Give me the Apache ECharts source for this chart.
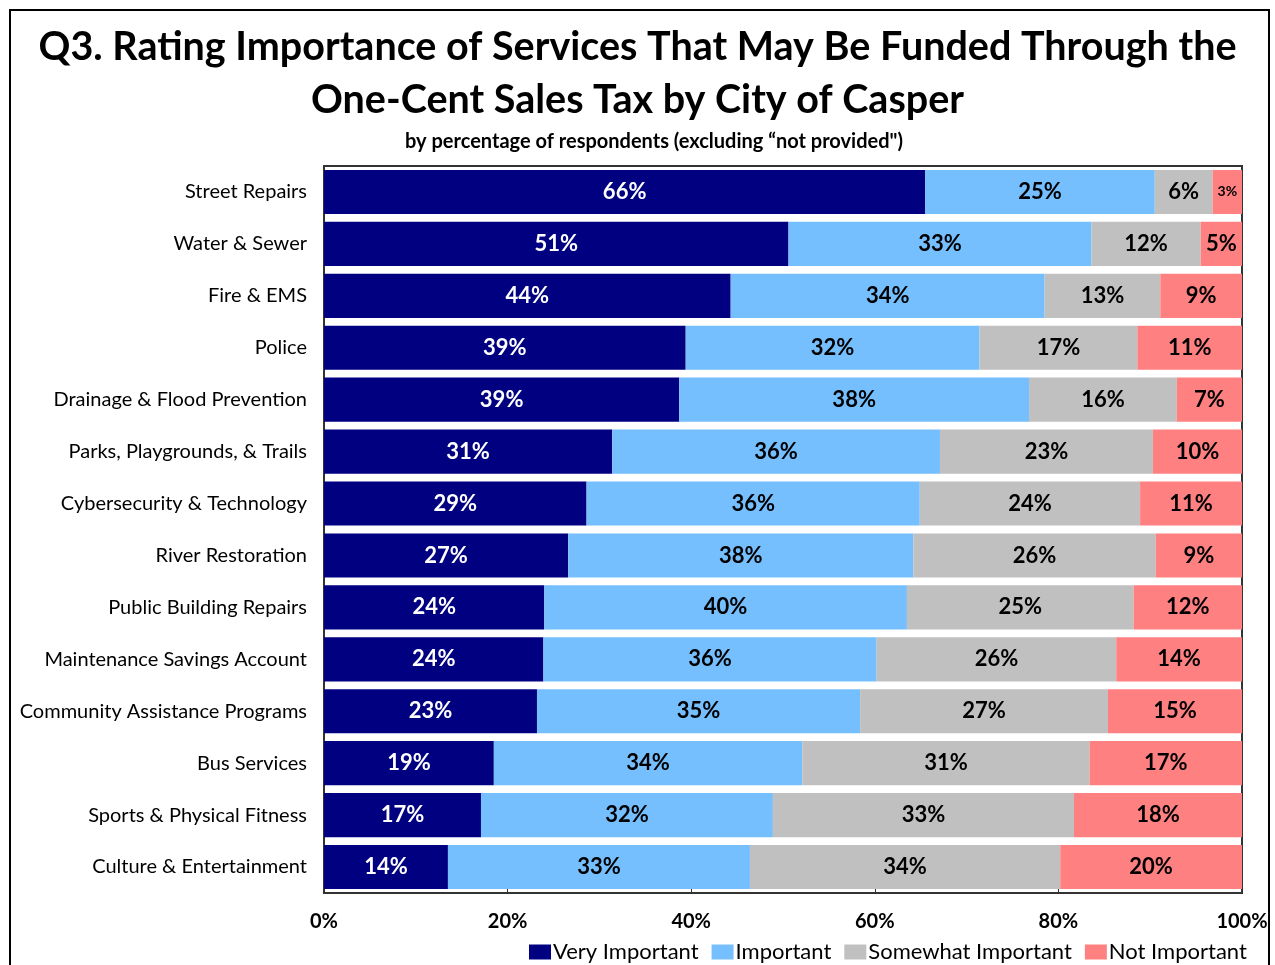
<!DOCTYPE html>
<html>
<head>
<meta charset="utf-8">
<script src="https://cdn.jsdelivr.net/npm/echarts@6/dist/echarts.min.js"></script>
<style>
  html, body { margin: 0; padding: 0; background: #fff; }
  #chart { width: 1275px; height: 965px; }
</style>
</head>
<body>
<div id="chart"></div>
<script>
// 分类（从上到下）
const categories = [
  'Street Repairs', 'Water & Sewer', 'Fire & EMS', 'Police',
  'Drainage & Flood Prevention', 'Parks, Playgrounds, & Trails',
  'Cybersecurity & Technology', 'River Restoration', 'Public Building Repairs',
  'Maintenance Savings Account', 'Community Assistance Programs',
  'Bus Services', 'Sports & Physical Fitness', 'Culture & Entertainment'
]
const veryImportant = [65.5, 50.6, 44.3, 39.4, 38.7, 31.4, 28.6, 26.6, 24.0, 23.9, 23.2, 18.5, 17.1, 13.5]
const important = [25.0, 33.0, 34.2, 32.0, 38.1, 35.7, 36.3, 37.6, 39.5, 36.3, 35.2, 33.6, 31.8, 32.9]
const somewhatImportant = [6.3, 11.9, 12.6, 17.2, 16.1, 23.2, 24.0, 26.4, 24.7, 26.1, 27.0, 31.3, 32.8, 33.8]
const notImportant = [3.2, 4.5, 8.9, 11.4, 7.1, 9.7, 11.1, 9.4, 11.8, 13.7, 14.6, 16.6, 18.3, 19.8]
const xTicks = [0, 20, 40, 60, 80, 100]

const FONT = 'Lato'

const chart = echarts.init(document.getElementById('chart'))

// 每段柱子的标签，数值很小时字号缩小
const makeData = (arr) => arr.map(v => ({
  value: v,
  label: v < 4 ? { fontSize: 14 } : {}
}))

const seriesDef = [
  { name: 'Very Important', data: veryImportant, color: '#000080', text: '#fff' },
  { name: 'Important', data: important, color: '#75BFFF', text: '#000' },
  { name: 'Somewhat Important', data: somewhatImportant, color: '#C0C0C0', text: '#000' },
  { name: 'Not Important', data: notImportant, color: '#FF8080', text: '#000' }
]

const option = {
  animation: false,
  textStyle: { fontFamily: FONT },
  graphic: [
    {
      type: 'rect',
      shape: { x: 10, y: 10, width: 1259, height: 1000 },
      style: { fill: 'none', stroke: '#000', lineWidth: 2 },
      silent: true
    }
  ],
  title: [
    {
      text: 'Q3. Rating Importance of Services That May Be Funded Through the\nOne-Cent Sales Tax by City of Casper',
      left: 'center',
      top: 16,
      textStyle: { fontSize: 39.5, fontWeight: 'bold', color: '#000', lineHeight: 53, fontFamily: FONT }
    },
    {
      text: 'by percentage of respondents (excluding \u201cnot provided")',
      left: 649,
      top: 127,
      textAlign: 'center',
      textStyle: { fontSize: 20, fontWeight: 'bold', color: '#000', fontFamily: FONT }
    }
  ],
  legend: {
    top: 936,
    left: 524,
    itemWidth: 22,
    itemHeight: 15,
    itemGap: 13,
    icon: 'rect',
    textStyle: { fontSize: 22, color: '#000', padding: [0, 0, 0, -3] },
    data: seriesDef.map(s => s.name)
  },
  grid: {
    left: 324,
    right: 33,
    top: 166,
    bottom: 72,
    show: true,
    borderColor: '#333',
    borderWidth: 2,
    containLabel: false
  },
  xAxis: {
    type: 'value',
    min: 0,
    max: 100,
    interval: 20,
    axisLine: { show: true, lineStyle: { color: '#333', width: 2 } },
    axisTick: { show: true, inside: true, length: 5, lineStyle: { color: '#333' } },
    splitLine: { show: false },
    axisLabel: {
      margin: 19,
      fontSize: 20,
      fontWeight: 'bold',
      color: '#000',
      formatter: (v) => xTicks.includes(v) ? v + '%' : ''
    }
  },
  yAxis: {
    type: 'category',
    inverse: true,
    data: categories,
    axisLine: { show: false },
    axisTick: { show: false },
    axisLabel: { fontSize: 20, color: '#000', margin: 17 }
  },
  series: seriesDef.map(s => ({
    name: s.name,
    type: 'bar',
    stack: 'total',
    barCategoryGap: '15%',
    itemStyle: { color: s.color },
    label: {
      show: true,
      position: 'inside',
      fontSize: 22,
      fontWeight: 'bold',
      color: s.text,
      formatter: (p) => Math.round(p.value) + '%'
    },
    data: makeData(s.data)
  }))
}

chart.setOption(option)
</script>
</body>
</html>
